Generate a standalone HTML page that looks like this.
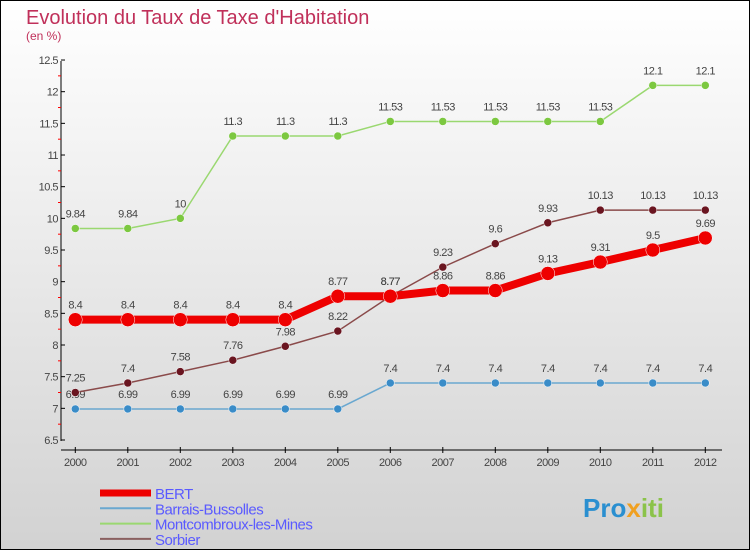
<!DOCTYPE html>
<html><head><meta charset="utf-8"><style>
body{margin:0}
#c{width:750px;height:550px;position:relative;box-sizing:border-box;border:1px solid #000;background:linear-gradient(#fff,#d2d2d2);font-family:"Liberation Sans",sans-serif;overflow:hidden}
</style></head><body>
<div id="c">
<svg width="750" height="550" style="position:absolute;left:-1px;top:-1px">
<text x="26" y="24" font-size="20" fill="#c0305a">Evolution du Taux de Taxe d'Habitation</text>
<text x="26" y="40" font-size="12" fill="#c0305a">(en %)</text>
<g id="axes"></g><g id="series"></g><g id="legend"></g>
<text x="583" y="517" font-size="26" font-weight="bold" fill="#2a8fd0">Pro<tspan fill="#f0a020">x</tspan><tspan fill="#8bc34a">iti</tspan></text>
</svg></div>
<script>
const years=[2000,2001,2002,2003,2004,2005,2006,2007,2008,2009,2010,2011,2012];
const yTicks=[6.5,7,7.5,8,8.5,9,9.5,10,10.5,11,11.5,12,12.5];
const bert=[8.4,8.4,8.4,8.4,8.4,8.77,8.77,8.86,8.86,9.13,9.31,9.5,9.69];
const barrais=[6.99,6.99,6.99,6.99,6.99,6.99,7.4,7.4,7.4,7.4,7.4,7.4,7.4];
const montc=[9.84,9.84,10,11.3,11.3,11.3,11.53,11.53,11.53,11.53,11.53,12.1,12.1];
const sorbier=[7.25,7.4,7.58,7.76,7.98,8.22,8.77,9.23,9.6,9.93,10.13,10.13,10.13];
const NS="http://www.w3.org/2000/svg";
const X=i=>75.3+i*52.5, Y=v=>440-(v-6.5)*63.33;
function mk(t,a,p){const e=document.createElementNS(NS,t);for(const k in a)e.setAttribute(k,a[k]);p.appendChild(e);return e;}
const ax=document.getElementById('axes');
let l=mk('line',{x1:61,y1:61,x2:61,y2:441,stroke:'#000'},ax);
l=mk('line',{x1:61,y1:450,x2:722,y2:450,stroke:'#000'},ax);
yTicks.forEach((v,i)=>{const y=Y(v);mk('line',{x1:61,y1:y,x2:65,y2:y,stroke:'#000'},ax);
 if(i<yTicks.length-1)mk('line',{x1:58,y1:Y(v+0.25),x2:61,y2:Y(v+0.25),stroke:'red'},ax);
 const t=mk('text',{x:58,y:y+4,'font-size':11,'text-anchor':'end',fill:'#444','letter-spacing':'-0.5'},ax);t.textContent=v;
 });
years.forEach((yr,i)=>{mk('line',{x1:X(i),y1:447,x2:X(i),y2:453,stroke:'#000'},ax);
 const t=mk('text',{x:X(i),y:466,'font-size':11,'text-anchor':'middle',fill:'#444','letter-spacing':'-0.5'},ax);t.textContent=yr;
 });
const sg=document.getElementById('series');
function draw(name,d,col,w,r,dot){const g=mk('g',{},sg);
 mk('polyline',{points:d.map((v,i)=>X(i)+','+Y(v)).join(' '),fill:'none',stroke:col,'stroke-width':w},g);
 d.forEach((v,i)=>{const c=mk('circle',{cx:X(i),cy:Y(v),r:r,fill:dot,stroke:'#fff','stroke-width':0.5},g);
  const t=mk('text',{x:X(i),y:Y(v)-11,'font-size':11,'text-anchor':'middle',fill:'#444','letter-spacing':'-0.5'},g);t.textContent=v;
  });}
draw('barrais',barrais,'#6aa8d0',1.5,4,'#3a8cc8');
draw('montc',montc,'#9ad870',1.5,4,'#7cc840');
draw('sorbier',sorbier,'#8a4a4a',1.5,4,'#6a1520');
draw('bert',bert,'#ee0000',8,7,'#ee0000');
const lg=document.getElementById('legend');
[['BERT','#ee0000',7],['Barrais-Bussolles','#6aa8d0',2],['Montcombroux-les-Mines','#9ad870',2],['Sorbier','#8a6060',2]].forEach((e,i)=>{
 const y=493+i*15.3;const g=mk('g',{},lg);
 mk('line',{x1:100,y1:y,x2:151,y2:y,stroke:e[1],'stroke-width':e[2]},g);
 const t=mk('text',{x:155,y:y+6,'font-size':15,fill:'#5a5aff','letter-spacing':'-0.5'},g);t.textContent=e[0];});
</script></body></html>
